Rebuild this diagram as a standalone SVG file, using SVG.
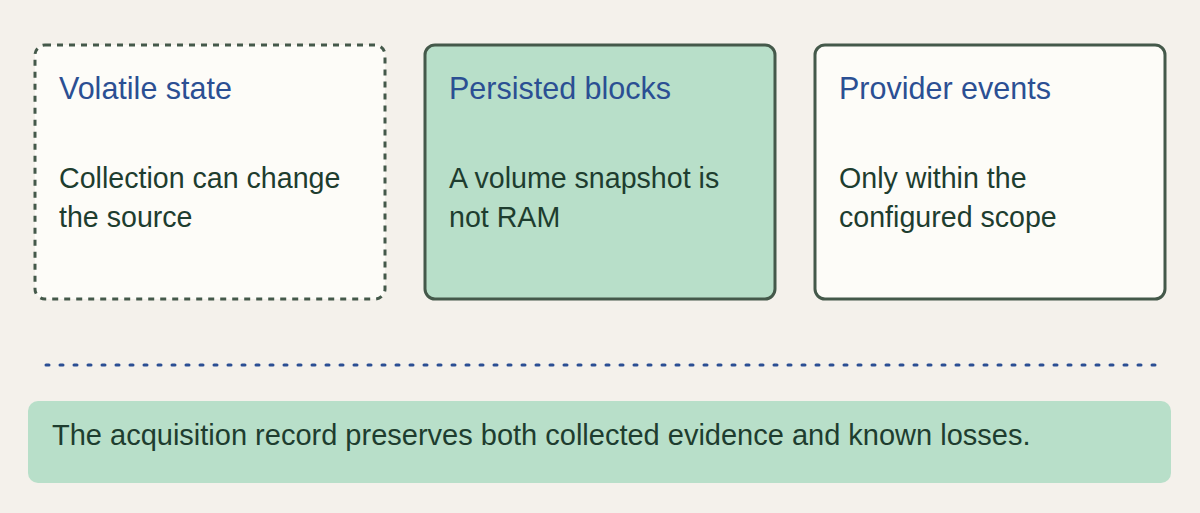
<svg xmlns="http://www.w3.org/2000/svg" width="1200" height="513" viewBox="0 0 1200 513">
<style>
.box{stroke:#44594a;stroke-width:3}
.t{font-family:"Liberation Sans",Arial,sans-serif;font-size:30.5px;fill:#2b4f93}
.b{font-family:"Liberation Sans",Arial,sans-serif;font-size:28.6px;fill:#1e3d2f}
</style>
<rect width="1200" height="513" fill="#f4f1eb"/>
<g id="volatile">
<rect class="box" x="35" y="45" width="350" height="254" rx="10" fill="#fdfcf8" stroke-dasharray="6 6"/>
<text class="t" x="59" y="99">Volatile state</text>
<text class="b" x="59" y="188">Collection can change</text>
<text class="b" x="59" y="227">the source</text>
</g>
<g id="persisted">
<rect class="box" x="425" y="45" width="350" height="254" rx="10" fill="#b8dfc9"/>
<text class="t" x="449" y="99">Persisted blocks</text>
<text class="b" x="449" y="188">A volume snapshot is</text>
<text class="b" x="449" y="227">not RAM</text>
</g>
<g id="provider">
<rect class="box" x="815" y="45" width="350" height="254" rx="10" fill="#fdfcf8"/>
<text class="t" x="839" y="99">Provider events</text>
<text class="b" x="839" y="188">Only within the</text>
<text class="b" x="839" y="227">configured scope</text>
</g>
<g id="connectors">
<line x1="46" y1="365" x2="1155" y2="365" stroke="#2b4f93" stroke-width="3" stroke-dasharray="3 11" stroke-linecap="round"/>
</g>
<g id="record">
<rect x="28" y="401" width="1143" height="82" rx="10" fill="#b8dfc9"/>
<text class="b" x="52" y="445" style="font-size:29px">The acquisition record preserves both collected evidence and known losses.</text>
</g>
</svg>
